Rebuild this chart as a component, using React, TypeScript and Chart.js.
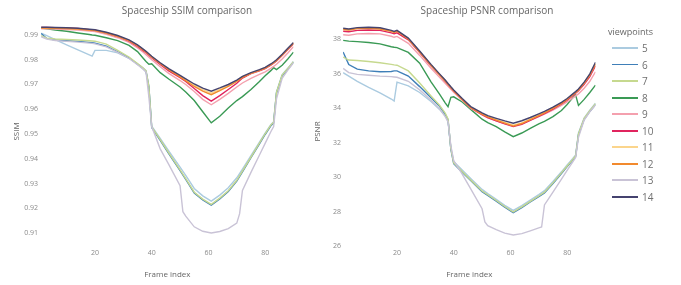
import React, { useEffect, useRef } from "react";
import { Chart, registerables } from "chart.js";

Chart.register(...registerables);

// ---------- data ----------
const viewpoints = ["5", "6", "7", "8", "9", "10", "11", "12", "13", "14"];
const lineColors = [
  "#abcbe0", "#3f7fb8", "#c6d98f", "#3a9a55", "#f4a0ae",
  "#e0245e", "#fbd58c", "#f28a2e", "#c9c3d6", "#45436f",
];

const frames = [1, 3, 6, 10, 14, 18, 19, 20, 24, 28, 32, 35, 37, 38, 39, 40, 43, 46, 50, 52, 55, 58, 61, 64, 67, 70, 72, 75, 78, 80, 82, 83, 84, 86, 88, 90];
const frames13 = [1, 3, 6, 10, 14, 18, 19, 20, 24, 28, 32, 35, 37, 38, 39, 40, 43, 46, 50, 51, 52, 55, 58, 61, 64, 67, 70, 71, 72, 75, 78, 80, 82, 83, 84, 86, 88, 90];

const xTicks = [20, 40, 60, 80];
const ssimTicks = [0.91, 0.92, 0.93, 0.94, 0.95, 0.96, 0.97, 0.98, 0.99];
const psnrTicks = [26, 28, 30, 32, 34, 36, 38];

// SSIM
const ssim5 = [0.9907, 0.9897, 0.9881, 0.986, 0.984, 0.982, 0.9815, 0.9838, 0.9838, 0.9828, 0.9806, 0.9784, 0.9767, 0.9756, 0.9695, 0.9532, 0.9482, 0.9432, 0.9366, 0.9333, 0.928, 0.925, 0.9229, 0.9253, 0.9283, 0.9323, 0.9358, 0.9413, 0.9467, 0.9504, 0.9538, 0.955, 0.967, 0.974, 0.9766, 0.9793];
const ssim6 = [0.9906, 0.9886, 0.988, 0.9877, 0.9874, 0.987, 0.9869, 0.9867, 0.9855, 0.9832, 0.9808, 0.9782, 0.9764, 0.9752, 0.969, 0.9526, 0.9474, 0.9421, 0.9352, 0.9317, 0.9262, 0.9234, 0.9213, 0.9238, 0.9268, 0.931, 0.9347, 0.9404, 0.946, 0.9498, 0.9533, 0.9545, 0.9665, 0.9735, 0.9762, 0.979];
const ssim7 = [0.9897, 0.9887, 0.9884, 0.9882, 0.988, 0.9877, 0.9876, 0.9875, 0.9863, 0.9838, 0.9811, 0.9785, 0.9767, 0.9755, 0.9693, 0.9529, 0.9477, 0.9424, 0.9355, 0.932, 0.9265, 0.9237, 0.9216, 0.9241, 0.9271, 0.9313, 0.935, 0.9407, 0.9463, 0.9501, 0.9536, 0.9548, 0.9668, 0.9738, 0.9765, 0.9792];
const ssim8 = [0.9928, 0.9925, 0.992, 0.9915, 0.9908, 0.9902, 0.99, 0.9899, 0.9889, 0.9877, 0.9858, 0.9833, 0.9806, 0.9793, 0.9782, 0.9784, 0.9748, 0.9722, 0.969, 0.967, 0.9635, 0.959, 0.9545, 0.9572, 0.9605, 0.9635, 0.9651, 0.968, 0.9712, 0.9735, 0.9756, 0.9768, 0.976, 0.9778, 0.9803, 0.9831];
const ssim9 = [0.9925, 0.9925, 0.9924, 0.9922, 0.992, 0.9916, 0.9915, 0.9914, 0.9903, 0.9889, 0.987, 0.9848, 0.983, 0.982, 0.981, 0.98, 0.9772, 0.9745, 0.9716, 0.97, 0.9672, 0.964, 0.9618, 0.964, 0.9664, 0.969, 0.9706, 0.9725, 0.9741, 0.9751, 0.9765, 0.9773, 0.9782, 0.9803, 0.9827, 0.9853];
const ssim10 = [0.993, 0.993, 0.9929, 0.9928, 0.9926, 0.9921, 0.992, 0.9919, 0.9908, 0.9894, 0.9875, 0.9854, 0.9837, 0.9828, 0.9818, 0.9808, 0.9781, 0.9755, 0.9728, 0.9712, 0.9684, 0.9655, 0.9633, 0.9655, 0.968, 0.9705, 0.9726, 0.9744, 0.9755, 0.9764, 0.9778, 0.9786, 0.9795, 0.9817, 0.9841, 0.9865];
const ssim11 = [0.9929, 0.9929, 0.9928, 0.9927, 0.9925, 0.9921, 0.992, 0.9919, 0.9909, 0.9896, 0.9878, 0.9858, 0.9841, 0.9832, 0.9822, 0.9812, 0.9786, 0.9762, 0.9734, 0.9719, 0.9697, 0.9679, 0.9665, 0.968, 0.9696, 0.9715, 0.9731, 0.9746, 0.9758, 0.9767, 0.9781, 0.9789, 0.9798, 0.982, 0.9844, 0.9868];
const ssim12 = [0.9928, 0.9928, 0.9927, 0.9926, 0.9924, 0.992, 0.9919, 0.9918, 0.9908, 0.9895, 0.9877, 0.9857, 0.984, 0.9831, 0.9821, 0.9811, 0.9785, 0.976, 0.9731, 0.9715, 0.9692, 0.9673, 0.9659, 0.9675, 0.9692, 0.9712, 0.9729, 0.9745, 0.9757, 0.9766, 0.978, 0.9788, 0.9797, 0.9819, 0.9843, 0.9867];
const ssim13 = [0.9893, 0.9884, 0.9878, 0.9874, 0.9871, 0.9867, 0.9866, 0.9864, 0.9852, 0.983, 0.9805, 0.978, 0.9762, 0.975, 0.965, 0.953, 0.944, 0.9377, 0.9291, 0.9186, 0.9168, 0.9125, 0.9107, 0.91, 0.9106, 0.9118, 0.914, 0.9178, 0.9272, 0.9345, 0.9415, 0.9462, 0.9509, 0.953, 0.9642, 0.9725, 0.9758, 0.9788];
const ssim14 = [0.9931, 0.9931, 0.993, 0.9929, 0.9927, 0.9923, 0.9922, 0.9921, 0.9911, 0.9898, 0.988, 0.986, 0.9843, 0.9834, 0.9824, 0.9814, 0.9788, 0.9764, 0.9737, 0.9723, 0.9702, 0.9685, 0.9673, 0.9686, 0.97, 0.9718, 0.9733, 0.9748, 0.976, 0.9769, 0.9783, 0.9791, 0.98, 0.9822, 0.9846, 0.987];

// PSNR
const psnr5 = [36.05, 35.85, 35.55, 35.2, 34.88, 34.52, 34.4, 35.5, 35.28, 34.9, 34.38, 33.92, 33.55, 33.25, 31.7, 30.9, 30.4, 29.91, 29.28, 29.04, 28.7, 28.36, 28.06, 28.34, 28.66, 28.98, 29.21, 29.74, 30.3, 30.7, 31.07, 31.28, 32.55, 33.42, 33.88, 34.28];
const psnr6 = [37.25, 36.52, 36.25, 36.15, 36.1, 36.12, 36.15, 36.15, 35.85, 35.24, 34.6, 34.1, 33.65, 33.32, 31.6, 30.78, 30.28, 29.79, 29.15, 28.93, 28.6, 28.25, 27.93, 28.23, 28.55, 28.86, 29.08, 29.62, 30.2, 30.6, 30.98, 31.2, 32.45, 33.35, 33.8, 34.2];
const psnr7 = [36.95, 36.78, 36.75, 36.7, 36.62, 36.53, 36.5, 36.48, 36.15, 35.45, 34.7, 34.16, 33.7, 33.36, 31.65, 30.82, 30.32, 29.83, 29.19, 28.97, 28.64, 28.29, 27.97, 28.27, 28.59, 28.9, 29.12, 29.66, 30.24, 30.64, 31.02, 31.24, 32.5, 33.4, 33.85, 34.25];
const psnr8 = [37.92, 37.88, 37.85, 37.8, 37.72, 37.55, 37.52, 37.5, 37.22, 36.6, 35.52, 34.8, 34.3, 34.08, 34.62, 34.65, 34.35, 33.92, 33.35, 33.15, 32.92, 32.62, 32.34, 32.55, 32.82, 33.08, 33.22, 33.5, 33.85, 34.2, 34.6, 34.75, 34.15, 34.5, 34.9, 35.33];
const psnr9 = [38.25, 38.22, 38.3, 38.32, 38.3, 38.16, 38.1, 38.15, 37.75, 37.05, 36.3, 35.78, 35.44, 35.26, 35.08, 34.92, 34.45, 33.98, 33.6, 33.43, 33.26, 33.1, 32.98, 33.1, 33.3, 33.5, 33.64, 33.88, 34.15, 34.35, 34.58, 34.7, 34.82, 35.15, 35.55, 36.1];
const psnr10 = [38.45, 38.42, 38.5, 38.52, 38.5, 38.36, 38.3, 38.36, 37.95, 37.22, 36.45, 35.92, 35.55, 35.36, 35.17, 34.99, 34.5, 34.02, 33.62, 33.45, 33.26, 33.08, 32.92, 33.06, 33.28, 33.52, 33.68, 33.94, 34.24, 34.46, 34.72, 34.86, 35.0, 35.38, 35.82, 36.45];
const psnr11 = [38.57, 38.54, 38.62, 38.64, 38.6, 38.46, 38.4, 38.47, 38.02, 37.27, 36.5, 35.95, 35.59, 35.39, 35.2, 35.02, 34.52, 34.05, 33.68, 33.51, 33.33, 33.16, 33.0, 33.14, 33.36, 33.59, 33.75, 34.01, 34.29, 34.52, 34.79, 34.92, 35.07, 35.46, 35.93, 36.58];
const psnr12 = [38.55, 38.52, 38.6, 38.62, 38.58, 38.44, 38.38, 38.45, 38.0, 37.25, 36.48, 35.93, 35.57, 35.37, 35.18, 35.0, 34.5, 34.03, 33.65, 33.48, 33.3, 33.12, 32.95, 33.1, 33.32, 33.56, 33.72, 33.98, 34.27, 34.5, 34.77, 34.9, 35.05, 35.44, 35.9, 36.55];
const psnr13 = [36.3, 36.05, 35.95, 35.9, 35.85, 35.82, 35.8, 35.78, 35.55, 35.05, 34.45, 33.95, 33.5, 33.2, 31.8, 30.95, 30.17, 29.31, 28.16, 27.4, 27.18, 26.95, 26.75, 26.64, 26.72, 26.88, 27.05, 27.1, 28.38, 29.13, 29.88, 30.38, 30.88, 31.13, 32.3, 33.3, 33.78, 34.18];
const psnr14 = [38.62, 38.58, 38.66, 38.68, 38.65, 38.5, 38.44, 38.5, 38.05, 37.3, 36.53, 35.98, 35.62, 35.42, 35.23, 35.05, 34.55, 34.08, 33.72, 33.56, 33.4, 33.25, 33.12, 33.26, 33.45, 33.66, 33.8, 34.05, 34.33, 34.55, 34.82, 34.95, 35.1, 35.5, 35.98, 36.65];

const ssimSeries = [ssim5, ssim6, ssim7, ssim8, ssim9, ssim10, ssim11, ssim12, ssim13, ssim14];
const psnrSeries = [psnr5, psnr6, psnr7, psnr8, psnr9, psnr10, psnr11, psnr12, psnr13, psnr14];

const FONT = "'Open Sans', 'Noto Sans', sans-serif";
const TICK_COLOR = "#8a8a8a";
const TITLE_COLOR = "#666";

function buildDatasets(series: number[][]) {
  const ds = series.map((vals, i) => {
    const fr = viewpoints[i] === "13" ? frames13 : frames;
    const n = Math.min(fr.length, vals.length);
    const data = [];
    for (let k = 0; k < n; k++) data.push({ x: fr[k], y: vals[k] });
    return {
      label: viewpoints[i],
      data,
      borderColor: lineColors[i],
      backgroundColor: lineColors[i],
      borderWidth: 1.4,
      pointRadius: 0,
      tension: 0,
      fill: false,
    };
  });
  // first dataset is drawn on top in Chart.js, so reverse to keep 14 on top
  return ds.reverse();
}

type PanelProps = {
  series: number[][];
  yMin: number;
  yMax: number;
  yTicks: number[];
  yTitle: string;
  yTitlePad: number;
  yAxisWidth: number;
  yTickPad: number;
  padRight: number;
  fmt: (v: number) => string;
  left: number;
  width: number;
};

function Panel(p: PanelProps) {
  const ref = useRef<HTMLCanvasElement | null>(null);
  useEffect(() => {
    if (!ref.current) return;
    const chart = new Chart(ref.current, {
      type: "line",
      data: { datasets: buildDatasets(p.series) as any },
      options: {
        animation: false,
        responsive: false,
        devicePixelRatio: 1,
        layout: { padding: { left: 0, right: p.padRight, top: 19, bottom: 0 } },
        plugins: { legend: { display: false }, tooltip: { enabled: false }, title: { display: false } },
        scales: {
          x: {
            type: "linear",
            min: 1,
            max: 90,
            grid: { display: false, drawTicks: false },
            border: { display: false },
            afterBuildTicks: (s: any) => {
              s.ticks = xTicks.map((v) => ({ value: v }));
            },
            afterFit: (s: any) => {
              s.height = 41;
            },
            ticks: {
              color: TICK_COLOR,
              font: { family: FONT, size: 7 },
              padding: 5,
              maxRotation: 0,
              autoSkip: false,
              callback: (v: any) => String(v),
            },
            title: {
              display: true,
              text: "Frame index",
              color: TITLE_COLOR,
              font: { family: FONT, size: 8 },
              padding: { top: 0, bottom: 5 },
            },
          },
          y: {
            type: "linear",
            min: p.yMin,
            max: p.yMax,
            grid: { display: false, drawTicks: false },
            border: { display: false },
            afterBuildTicks: (s: any) => {
              s.ticks = p.yTicks.map((v) => ({ value: v }));
            },
            afterFit: (s: any) => {
              s.width = p.yAxisWidth;
            },
            ticks: {
              color: TICK_COLOR,
              font: { family: FONT, size: 7 },
              padding: p.yTickPad,
              autoSkip: false,
              callback: (v: any) => p.fmt(Number(v)),
            },
            title: {
              display: true,
              text: p.yTitle,
              color: TITLE_COLOR,
              font: { family: FONT, size: 8 },
              padding: { top: p.yTitlePad, bottom: 0 },
            },
          },
        },
      } as any,
    });
    return () => chart.destroy();
  }, []);
  return (
    <canvas
      ref={ref}
      width={p.width}
      height={285}
      style={{ position: "absolute", left: p.left, top: 0, width: p.width, height: 285 }}
    />
  );
}

export default function App() {
  const legendTop = 48;
  const legendStep = 16.55;
  return (
    <div
      style={{
        position: "fixed",
        left: 0,
        top: 0,
        width: 681,
        height: 285,
        background: "#fff",
        overflow: "hidden",
        fontFamily: FONT,
      }}
    >
      <Panel
        series={ssimSeries}
        yMin={0.90556}
        yMax={0.99646}
        yTicks={ssimTicks}
        yTitle="SSIM"
        yTitlePad={12.2}
        yAxisWidth={41.1}
        yTickPad={3}
        padRight={6.5}
        fmt={(v) => v.toFixed(2)}
        left={0}
        width={300}
      />
      <Panel
        series={psnrSeries}
        yMin={26.116}
        yMax={39.16}
        yTicks={psnrTicks}
        yTitle="PSNR"
        yTitlePad={13.2}
        yAxisWidth={43.1}
        yTickPad={2}
        padRight={4.5}
        fmt={(v) => String(Math.round(v))}
        left={300}
        width={300}
      />
      <div
        style={{
          position: "absolute",
          left: 187 - 100,
          width: 200,
          top: 3,
          textAlign: "center",
          fontSize: 10,
          lineHeight: "14px",
          color: TITLE_COLOR,
        }}
      >
        Spaceship SSIM comparison
      </div>
      <div
        style={{
          position: "absolute",
          left: 487 - 100,
          width: 200,
          top: 3,
          textAlign: "center",
          fontSize: 10,
          lineHeight: "14px",
          color: TITLE_COLOR,
        }}
      >
        Spaceship PSNR comparison
      </div>
      <div
        style={{
          position: "absolute",
          left: 608,
          top: 25,
          fontSize: 9,
          lineHeight: "14px",
          color: TITLE_COLOR,
        }}
      >
        viewpoints
      </div>
      {viewpoints.map((v, i) => (
        <div
          key={v}
          style={{
            position: "absolute",
            left: 612,
            top: legendTop + i * legendStep - 7,
            height: 14,
            display: "flex",
            alignItems: "center",
          }}
        >
          <div style={{ width: 26, height: 1.8, background: lineColors[i] }} />
          <div style={{ marginLeft: 4, fontSize: 10, lineHeight: "14px", color: "#707070" }}>{v}</div>
        </div>
      ))}
    </div>
  );
}
